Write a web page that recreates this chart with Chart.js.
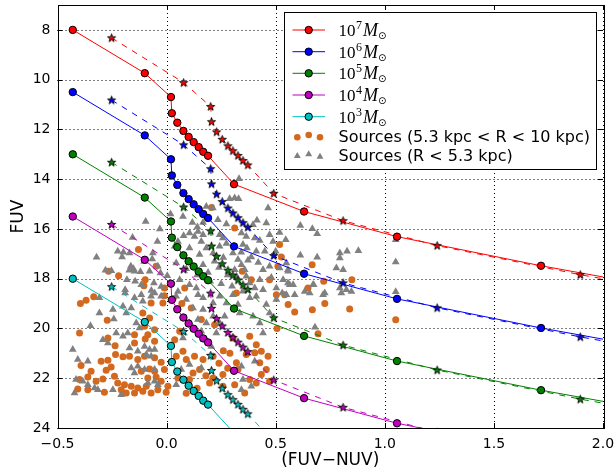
<!DOCTYPE html>
<html>
<head>
<meta charset="utf-8">
<script src="https://cdn.jsdelivr.net/npm/chart.js@4.4.1/dist/chart.umd.min.js"></script>
<style>
  html, body { margin: 0; padding: 0; background: #fff; }
  #wrap { width: 616px; height: 474px; }
</style>
</head>
<body>
<div id="wrap"><canvas id="chart"></canvas></div>
<script>
// model tracks: colour (FUV-NUV) of the circles and stars, FUV per cluster mass
var masses = ['7', '6', '5', '4', '3'];
var colors = ['#ff0000', '#0000ff', '#008000', '#bf00bf', '#00bfbf'];

var circleX = [-0.43, -0.10, 0.02, 0.024, 0.049, 0.077, 0.101, 0.124, 0.147, 0.168, 0.19, 0.309, 0.63, 1.056, 1.716, 2.5];
var fuv7 = [8.0, 9.74, 10.70, 11.35, 11.73, 12.06, 12.30, 12.51, 12.71, 12.90, 13.06, 14.20, 15.30, 16.31, 17.48, 18.72];
var fuv6 = [10.5, 12.24, 13.20, 13.85, 14.23, 14.56, 14.80, 15.01, 15.21, 15.40, 15.56, 16.70, 17.80, 18.81, 19.98, 21.22];
var fuv5 = [13.0, 14.74, 15.70, 16.35, 16.73, 17.06, 17.30, 17.51, 17.71, 17.90, 18.06, 19.20, 20.30, 21.31, 22.48, 23.72];
var fuv4 = [15.5, 17.24, 18.20, 18.85, 19.23, 19.56, 19.80, 20.01, 20.21, 20.40, 20.56, 21.70, 22.80, 23.81, 24.98, 26.22];
var fuv3 = [18.0, 19.74, 20.70, 21.35, 21.73, 22.06, 22.30, 22.51, 22.71, 22.90, 23.06, 24.20, 25.30, 26.31, 27.48, 28.72];

var starX = [-0.252, 0.078, 0.202, 0.206, 0.229, 0.255, 0.281, 0.304, 0.327, 0.35, 0.372, 0.491, 0.809, 1.24, 1.896, 2.5];
var sfuv7 = [8.32, 10.12, 11.08, 11.69, 12.10, 12.40, 12.66, 12.86, 13.05, 13.25, 13.43, 14.57, 15.67, 16.67, 17.84, 18.78];
var sfuv6 = [10.82, 12.62, 13.58, 14.19, 14.60, 14.90, 15.16, 15.36, 15.55, 15.75, 15.93, 17.07, 18.17, 19.17, 20.34, 21.28];
var sfuv5 = [13.32, 15.12, 16.08, 16.69, 17.10, 17.40, 17.66, 17.86, 18.05, 18.25, 18.43, 19.57, 20.67, 21.67, 22.84, 23.78];
var sfuv4 = [15.82, 17.62, 18.58, 19.19, 19.60, 19.90, 20.16, 20.36, 20.55, 20.75, 20.93, 22.07, 23.17, 24.17, 25.34, 26.28];
var sfuv3 = [18.32, 20.12, 21.08, 21.69, 22.10, 22.40, 22.66, 22.86, 23.05, 23.25, 23.43, 24.57, 25.67, 26.67, 27.84, 28.78];

// observed sources, [FUV-NUV, FUV]
var srcOuter = [ // 5.3 kpc < R < 10 kpc
  [0.206,15.14],[0.312,15.96],[0.518,16.63],[0.526,17.13],[0.51,17.5],[0.347,17.7],[0.388,18.04],[0.472,18.04],
  [0.083,18.37],[-0.129,16.83],[-0.048,17.5],[-0.266,17.7],[-0.22,17.88],[-0.104,18.28],[-0.098,18.04],[-0.01,18.37],
  [0.667,17.44],[0.72,18.1],[0.849,18.04],[0.648,18.37],[0.725,19.0],[0.587,19.34],[0.668,19.25],[0.839,19.22],
  [0.694,20.21],[0.506,20.0],[1.05,19.65],
  [-0.395,19.0],[-0.369,18.87],[-0.334,18.73],[-0.272,19.67],[-0.399,20.18],[-0.071,18.98],[-0.017,18.98],[-0.01,18.68],
  [-0.147,20.58],[-0.098,20.42],[-0.055,20.51],[-0.269,20.38],[-0.236,20.69],[-0.234,21.05],[-0.2,21.14],[-0.17,21.12],
  [-0.3,21.32],[-0.269,21.28],[-0.254,21.55],[-0.277,21.68],[-0.346,21.72],[-0.392,21.49],[-0.361,21.95],[-0.323,22.12],
  [-0.292,22.03],[-0.239,21.92],[-0.224,22.19],[-0.193,22.26],[-0.162,22.32],[-0.132,22.39],[-0.093,22.32],[-0.208,22.46],
  [-0.185,22.59],[-0.147,22.59],[-0.285,22.56],[-0.361,22.46],[-0.407,22.43],[-0.399,22.05],[-0.132,21.25],[-0.101,21.12],
  [-0.055,21.18],[-0.025,21.36],[-0.078,21.63],[-0.116,21.72],[-0.055,21.72],[-0.01,21.65],[-0.086,21.99],[-0.048,21.95],
  [-0.025,22.12],[0.006,22.32],[-0.002,22.56],[-0.04,22.46],[-0.071,22.59],[-0.109,22.52],[-0.147,20.25],[-0.086,20.25],
  [-0.055,20.05],[-0.101,19.91],[-0.078,19.58],[-0.109,19.38],
  [0.113,19.18],[0.159,19.64],[0.32,18.57],[0.503,18.64],[0.22,19.85],[0.304,20.38],[0.381,20.31],[0.411,20.65],
  [0.434,20.92],[0.404,20.98],[0.365,21.05],[0.465,21.12],[0.427,21.38],[0.457,21.65],[0.434,21.85],[0.472,22.12],
  [0.411,22.19],[0.381,22.05],[0.327,21.65],[0.32,21.38],[0.213,21.12],[0.167,21.25],[0.151,21.65],[0.121,21.79],
  [0.128,21.12],[0.09,21.25],[0.075,20.92],[0.044,21.12],[0.052,21.99],[0.105,22.05],[0.213,21.99],[0.258,21.85],
  [0.312,22.26],[0.258,22.32],[0.358,22.59],[0.197,22.19],[0.06,20.11],[0.037,20.45],[0.541,18.64],[0.557,19.04],
  [0.26,20.9],[0.24,21.4],[0.28,21.6],[0.18,21.9],[0.14,22.4],[0.09,22.6],[0.29,21.0],[0.03,18.8],[0.07,19.0]
];
var srcInner = [ // R < 5.3 kpc
  [0.332,13.98],[0.289,14.79],[0.312,14.76],[0.33,14.79],[0.182,15.1],[0.212,15.16],[0.018,15.4],[0.075,15.5],
  [-0.096,15.7],[0.465,15.16],
  [-0.031,16.0],[-0.156,16.34],[-0.042,16.5],[-0.224,16.9],[-0.198,16.94],[-0.204,17.13],[-0.321,17.14],[-0.17,16.97],
  [-0.063,16.97],[-0.066,17.21],[-0.103,17.31],[-0.164,17.5],[-0.152,17.6],[-0.171,17.66],[-0.147,17.7],[-0.12,17.72],
  [-0.28,17.66],[-0.253,17.68],[-0.078,17.7],[-0.028,17.77],[-0.04,17.5],[-0.182,18.04],[-0.144,18.1],[0.003,17.88],
  [-0.058,18.17],[-0.116,18.24],[-0.025,18.31],[-0.19,18.44],[-0.07,18.47],
  [0.118,15.74],[0.141,15.92],[0.167,15.74],[0.235,15.63],[0.274,15.8],[0.414,15.65],[0.396,15.83],[0.457,15.76],
  [0.105,16.16],[0.078,16.27],[0.128,16.3],[0.144,16.1],[0.167,16.23],[0.243,16.23],[0.258,16.36],[0.343,16.16],
  [0.365,16.3],[0.404,16.36],[0.427,16.46],[0.472,16.23],[0.518,16.14],[0.488,16.5],[0.052,16.5],[0.037,16.7],
  [0.105,16.77],[0.159,16.5],[0.182,16.77],[0.243,16.7],[0.274,16.59],[0.35,16.63],[0.368,16.77],[0.342,16.94],
  [0.411,16.9],[0.388,17.13],[0.373,17.26],[0.151,17.03],[0.213,16.97],[0.304,16.97],[0.327,17.23],[0.044,17.37],
  [0.105,17.3],[0.167,17.44],[0.343,17.44],[0.312,17.64],[0.358,17.64],[0.442,17.64],[0.472,17.5],[0.518,17.57],
  [0.549,17.37],[0.32,17.9],[0.365,17.9],[0.381,18.17],[0.427,18.04],[0.404,18.37],[0.442,18.44],[0.503,18.37],
  [0.534,18.04],[0.564,18.24],[0.557,17.7],[0.06,18.04],[0.105,18.24],[0.136,18.37],[0.052,18.51],
  [0.22,17.3],[0.26,17.15],[0.19,17.75],[0.24,17.55],[0.28,17.85],[0.14,17.85],[0.09,17.6],[0.2,18.1],
  [0.25,18.2],[0.3,18.3],[0.35,18.5],[0.48,17.95],[0.45,16.9],[0.5,16.9],[0.42,17.35],
  [0.613,15.86],[0.668,15.99],[0.69,16.19],[0.546,16.43],[0.613,17.06],[0.69,17.14],[0.794,16.97],[0.794,17.17],
  [0.827,16.9],[0.879,16.88],[0.778,17.57],[0.809,17.64],[0.58,18.24],[0.674,18.24],[0.725,18.57],[0.794,18.37],
  [0.824,18.44],[0.847,18.51],[0.587,18.64],[0.656,18.57],[0.68,19.95],[1.05,16.43],[1.05,17.33],[1.05,18.52],
  [0.556,17.64],[0.556,18.17],[0.633,18.51],[0.53,18.57],[0.717,18.64],[0.801,18.57],[0.671,18.24],
  [-0.19,18.57],[-0.147,18.77],[-0.116,18.64],[-0.109,18.91],[-0.071,18.71],[-0.055,18.57],[-0.025,18.71],[-0.308,18.77],
  [-0.246,19.24],[-0.2,19.11],[-0.162,19.18],[-0.185,19.38],[-0.308,19.38],[-0.242,19.62],[-0.349,19.89],[-0.139,19.78],
  [-0.124,19.98],[-0.2,20.31],[-0.231,20.18],[-0.178,20.18],[-0.292,20.45],[-0.269,20.58],[-0.17,20.78],[-0.132,20.92],
  [-0.101,20.72],[-0.078,20.85],[-0.055,20.85],[-0.093,21.05],[-0.071,21.12],[-0.43,20.85],[-0.407,21.25],[-0.361,21.32],
  [-0.162,21.59],[-0.132,21.52],[-0.101,21.65],[-0.147,21.79],[-0.055,21.65],[-0.384,22.12],[-0.415,22.05],[-0.361,22.26],
  [-0.33,22.39],[-0.315,22.46],[-0.422,22.59],[-0.246,22.46],[-0.208,22.66],[-0.086,22.19],[-0.055,22.12],[-0.04,22.26],
  [0.044,18.71],[0.09,18.84],[0.144,18.64],[0.167,18.77],[0.213,18.98],[0.243,18.71],[0.274,18.98],[0.304,18.64],
  [0.327,19.04],[0.381,18.77],[0.411,18.71],[0.457,19.04],[0.503,18.84],[0.549,18.64],[0.121,19.18],[0.167,19.24],
  [0.213,19.51],[0.266,19.51],[0.144,19.64],[0.182,19.78],[0.243,19.78],[0.105,19.78],[0.159,20.11],[0.228,20.18],
  [0.182,20.45],[0.205,20.72],[0.075,20.38],[0.335,19.38],[0.396,19.51],[0.472,19.38],[0.427,19.78],[0.442,20.18],
  [0.404,21.32],[0.343,21.52],[0.35,22.05],[0.388,22.32],[0.343,22.46],[0.105,21.45],[0.159,21.59],[0.067,21.65],
  [0.044,22.26]
];

var xTicks = [-0.5, 0.0, 0.5, 1.0, 1.5, 2.0];
var yTicks = [8, 10, 12, 14, 16, 18, 20, 22, 24];

var circleFUV = [fuv7, fuv6, fuv5, fuv4, fuv3];
var starFUV = [sfuv7, sfuv6, sfuv5, sfuv4, sfuv3];

function pts(xs, ys) {
  return xs.map(function (v, i) { return { x: v, y: ys[i] }; });
}

function starImg(color) {
  var c = document.createElement('canvas');
  c.width = 11; c.height = 11;
  var g = c.getContext('2d');
  g.beginPath();
  for (var i = 0; i < 10; i++) {
    var r = i % 2 ? 1.75 : 4.3;
    var a = -Math.PI / 2 + i * Math.PI / 5;
    g.lineTo(5.5 + r * Math.cos(a), 5.8 + r * Math.sin(a));
  }
  g.closePath();
  g.fillStyle = color;
  g.fill();
  g.lineWidth = 0.9;
  g.strokeStyle = '#000';
  g.stroke();
  return c;
}

var datasets = [];
masses.forEach(function (m, k) {
  datasets.push({
    label: 'circles ' + m,
    data: pts(circleX, circleFUV[k]),
    showLine: true,
    borderColor: colors[k],
    borderWidth: 1,
    pointRadius: 3.7,
    pointBackgroundColor: colors[k],
    pointBorderColor: '#000',
    pointBorderWidth: 1,
    clip: 0,
    order: 2
  });
  datasets.push({
    label: 'stars ' + m,
    data: pts(starX, starFUV[k]),
    showLine: true,
    borderColor: colors[k],
    borderWidth: 1,
    borderDash: [6, 6],
    pointStyle: starImg(colors[k]),
    clip: 0,
    order: 1
  });
});
datasets.push({
  label: 'Sources (R < 5.3 kpc)',
  data: srcInner.map(function (p) { return { x: p[0], y: p[1] }; }),
  pointStyle: 'triangle',
  pointRadius: 4.5,
  pointBackgroundColor: '#808080',
  pointBorderWidth: 0,
  clip: 0,
  order: 11
});
datasets.push({
  label: 'Sources (5.3 kpc < R < 10 kpc)',
  data: srcOuter.map(function (p) { return { x: p[0], y: p[1] }; }),
  pointStyle: 'circle',
  pointRadius: 3.5,
  pointBackgroundColor: '#d2691e',
  pointBorderWidth: 0,
  clip: 0,
  order: 12
});

function seg(ctx, x1, y1, x2, y2) {
  ctx.beginPath(); ctx.moveTo(x1, y1); ctx.lineTo(x2, y2); ctx.stroke();
}

var frame = {
  id: 'frame',
  beforeDatasetsDraw: function (chart) {
    var ctx = chart.ctx, a = chart.chartArea, sx = chart.scales.x, sy = chart.scales.y;
    ctx.save();
    ctx.strokeStyle = '#000';
    ctx.lineWidth = 1;
    ctx.setLineDash([1, 3]);
    xTicks.forEach(function (v) {
      var p = Math.round(sx.getPixelForValue(v)) + 0.5;
      seg(ctx, p, a.top, p, a.bottom);
    });
    yTicks.forEach(function (v) {
      var p = Math.round(sy.getPixelForValue(v)) + 0.5;
      seg(ctx, a.left, p, a.right, p);
    });
    ctx.restore();
  },
  afterDatasetsDraw: function (chart) {
    var ctx = chart.ctx, a = chart.chartArea, sx = chart.scales.x, sy = chart.scales.y;
    ctx.save();
    ctx.strokeStyle = '#000';
    ctx.lineWidth = 1;
    ctx.strokeRect(Math.round(a.left) + 0.5, Math.round(a.top) + 0.5,
      Math.round(a.right - a.left), Math.round(a.bottom - a.top));
    xTicks.forEach(function (v) {
      var p = Math.round(sx.getPixelForValue(v)) + 0.5;
      seg(ctx, p, a.bottom, p, a.bottom - 5);
      seg(ctx, p, a.top, p, a.top + 5);
    });
    yTicks.forEach(function (v) {
      var p = Math.round(sy.getPixelForValue(v)) + 0.5;
      seg(ctx, a.left, p, a.left + 5, p);
      seg(ctx, a.right, p, a.right - 5, p);
    });
    ctx.restore();
  },
  afterDraw: function (chart) {
    var ctx = chart.ctx;
    ctx.save();
    var bx = 284.5, by = 12.5, bw = 312, bh = 157;
    ctx.fillStyle = '#fff';
    ctx.fillRect(bx, by, bw, bh);
    ctx.strokeStyle = '#000';
    ctx.lineWidth = 1;
    ctx.strokeRect(bx, by, bw, bh);
    var rows = [30, 51.7, 73.3, 95, 116.7, 135.7, 155];
    masses.forEach(function (m, k) {
      var y = rows[k];
      ctx.strokeStyle = colors[k];
      ctx.lineWidth = 1;
      seg(ctx, 292.5, y, 325, y);
      ctx.beginPath();
      ctx.arc(308.7, y, 3.7, 0, Math.PI * 2);
      ctx.fillStyle = colors[k];
      ctx.fill();
      ctx.strokeStyle = '#000';
      ctx.stroke();
      // 10^m M_sun
      var x = 338.5, base = y + 6;
      ctx.fillStyle = '#000';
      ctx.textBaseline = 'alphabetic';
      ctx.font = '17px "Liberation Serif"';
      ctx.fillText('10', x, base);
      x += ctx.measureText('10').width + 0.5;
      ctx.font = '12px "Liberation Serif"';
      ctx.fillText(m, x, base - 7);
      x += ctx.measureText(m).width + 1;
      ctx.font = 'italic 18px "Liberation Serif"';
      ctx.fillText('M', x, base);
      x += ctx.measureText('M').width;
      ctx.font = '10px "DejaVu Sans"';
      ctx.fillText('\u2299', x, base + 3);
    });
    ctx.fillStyle = '#d2691e';
    [[297.3, 137.3], [308.7, 135], [320, 137.3]].forEach(function (p) {
      ctx.beginPath(); ctx.arc(p[0], p[1], 3.3, 0, Math.PI * 2); ctx.fill();
    });
    ctx.fillStyle = '#808080';
    [[297.3, 156], [308.7, 154.3], [320, 156.7]].forEach(function (p) {
      ctx.beginPath();
      ctx.moveTo(p[0], p[1] - 4);
      ctx.lineTo(p[0] + 3.46, p[1] + 2);
      ctx.lineTo(p[0] - 3.46, p[1] + 2);
      ctx.closePath(); ctx.fill();
    });
    ctx.fillStyle = '#000';
    ctx.font = '16px "DejaVu Sans"';
    ctx.fillText('Sources (5.3 kpc < R < 10 kpc)', 338.5, rows[5] + 6);
    ctx.fillText('Sources (R < 5.3 kpc)', 338.5, rows[6] + 6);
    ctx.restore();
  }
};

new Chart('chart', {
  type: 'scatter',
  data: { datasets: datasets },
  plugins: [frame],
  options: {
    responsive: true,
    maintainAspectRatio: false,
    animation: false,
    layout: { padding: { top: 5, right: 13, left: 0, bottom: 0 } },
    plugins: { legend: { display: false }, tooltip: { enabled: false } },
    elements: { line: { tension: 0 } },
    scales: {
      x: {
        type: 'linear',
        min: -0.5,
        max: 2.0,
        afterBuildTicks: function (s) { s.ticks = xTicks.map(function (v) { return { value: v }; }); },
        afterFit: function (s) { s.height = 46; s.paddingLeft = 0; s.paddingRight = 0; },
        grid: { display: false, drawTicks: false },
        border: { display: false },
        ticks: {
          padding: 8,
          color: '#000',
          font: { family: 'DejaVu Sans', size: 14 },
          maxRotation: 0,
          callback: function (v) { return (v < 0 ? '\u2212' : '') + Math.abs(v).toFixed(1); }
        },
        title: {
          display: true,
          text: '(FUV\u2212NUV)',
          color: '#000',
          font: { family: 'DejaVu Sans', size: 17 },
          padding: { top: 0, bottom: 3 }
        }
      },
      y: {
        type: 'linear',
        reverse: true,
        min: 7,
        max: 24,
        afterBuildTicks: function (s) { s.ticks = yTicks.map(function (v) { return { value: v }; }); },
        afterFit: function (s) { s.width = 57.5; s.paddingTop = 0; s.paddingBottom = 0; },
        grid: { display: false, drawTicks: false },
        border: { display: false },
        ticks: {
          padding: 7,
          color: '#000',
          font: { family: 'DejaVu Sans', size: 14 }
        },
        title: {
          display: true,
          text: 'FUV',
          color: '#000',
          font: { family: 'DejaVu Sans', size: 17 },
          padding: { top: 8, bottom: 0 }
        }
      }
    }
  }
});
</script>
</body>
</html>
